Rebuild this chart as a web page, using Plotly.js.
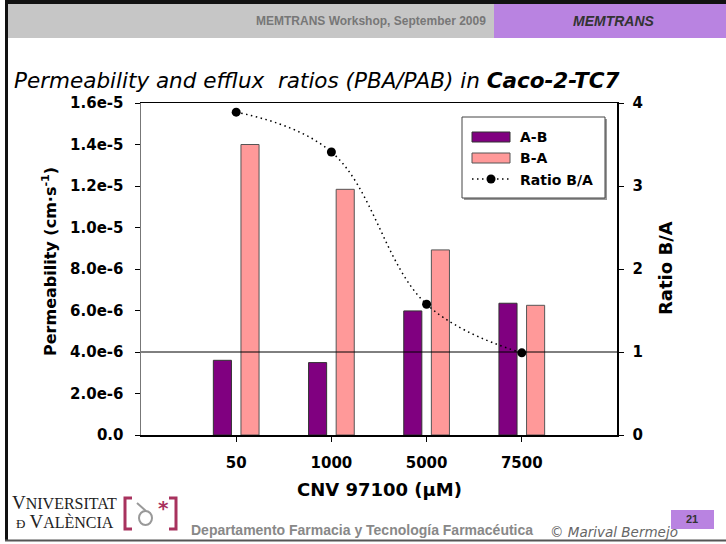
<!DOCTYPE html>
<html>
<head>
<meta charset="utf-8">
<script src="https://cdn.plot.ly/plotly-3.0.1.min.js"></script>
<style>html,body{margin:0;padding:0;background:#fff;}#chart{width:726px;height:544px;}</style>
</head>
<body>
<div id="chart"></div>
<script>
// ---- data ----
const categories = ['50', '1000', '5000', '7500'];
const seriesNames = ['A-B', 'B-A', 'Ratio B/A'];
const permAB = [3.60e-6, 3.49e-6, 5.98e-6, 6.35e-6];
const permBA = [1.40e-5, 1.184e-5, 8.92e-6, 6.25e-6];
const ratioBA = [3.89, 3.41, 1.575, 0.99];
const refRatio = 1;
const yTickVals = [0, 2e-6, 4e-6, 6e-6, 8e-6, 1e-5, 1.2e-5, 1.4e-5, 1.6e-5];
const yTickText = ['0.0', '2.0e-6', '4.0e-6', '6.0e-6', '8.0e-6', '1.0e-5', '1.2e-5', '1.4e-5', '1.6e-5'];
const y2TickVals = [0, 1, 2, 3, 4];

// ---- pixel helpers for decoration (paper coords) ----
const L = 141, R = 617, T = 103, B = 435;
const fx = p => (p - L) / (R - L);
const fy = p => (B - p) / (B - T);

const purple = '#800080', pink = '#FF9999', band = '#B983E1';

const traces = [
  {type: 'bar', name: seriesNames[0], x: categories, y: permAB, width: 0.19, offset: -0.24,
   marker: {color: purple, line: {color: '#333', width: 1}}, xaxis: 'x', yaxis: 'y'},
  {type: 'bar', name: seriesNames[1], x: categories, y: permBA, width: 0.19, offset: 0.05,
   marker: {color: pink, line: {color: '#555', width: 1}}, xaxis: 'x', yaxis: 'y'},
  {type: 'scatter', name: seriesNames[2], x: categories, y: ratioBA, mode: 'lines+markers',
   line: {color: '#000', width: 1.5, dash: '1.5px,3.5px', shape: 'spline', smoothing: 1.1},
   marker: {color: '#000', size: 9}, xaxis: 'x', yaxis: 'y2', cliponaxis: false}
];

function rect(x0, y0, x1, y1, fill, line, lw) {
  return {type: 'rect', xref: 'paper', yref: 'paper', x0: fx(x0), x1: fx(x1), y0: fy(y0), y1: fy(y1),
    fillcolor: fill, line: {color: line || fill, width: lw === undefined ? 0 : lw}, layer: 'above'};
}
function pathPx(pts, color, width) {
  let d = pts.map((p, i) => (i ? 'L' : 'M') + fx(p[0]) + ',' + fy(p[1])).join(' ');
  return {type: 'path', xref: 'paper', yref: 'paper', path: d, line: {color: color, width: width}, layer: 'above'};
}

const shapes = [
  // slide frame & header
  rect(5, 0, 726, 4, '#111'),
  rect(5, 0, 8, 541, '#111'),
  rect(8, 4, 494, 38, '#C6C6C6'),
  rect(494, 4, 726, 38, band),
  rect(5, 539.5, 726, 541.5, '#555'),
  rect(671, 510, 714, 529, band),
  // reference line at ratio = 1
  {type: 'line', xref: 'paper', x0: 0, x1: 1, yref: 'y2', y0: refRatio, y1: refRatio,
   line: {color: '#000', width: 1}, layer: 'above'},
  // legend box
  rect(464, 119, 607, 200, '#999'),
  rect(462, 117, 605, 198, '#fff', '#444', 1),
  rect(472, 132, 510, 142, purple, '#333', 1),
  rect(472, 153, 510, 163, pink, '#555', 1),
  {type: 'line', xref: 'paper', yref: 'paper', x0: fx(472), x1: fx(510), y0: fy(179), y1: fy(179),
   line: {color: '#000', width: 1.5, dash: '1.5px,3.5px'}, layer: 'above'},
  {type: 'circle', xref: 'paper', yref: 'paper', x0: fx(486.5), x1: fx(495.5), y0: fy(174.5), y1: fy(183.5),
   fillcolor: '#000', line: {color: '#000', width: 0}, layer: 'above'},
  // logo brackets
  pathPx([[132, 498], [125, 498], [125, 529], [132, 529]], '#A8325E', 3),
  pathPx([[169, 498], [176, 498], [176, 529], [169, 529]], '#A8325E', 3),
  pathPx([[137, 503], [146, 511]], '#999', 2),
  {type: 'circle', xref: 'paper', yref: 'paper', x0: fx(139), x1: fx(152), y0: fy(511), y1: fy(525),
   line: {color: '#999', width: 2}, layer: 'above'}
];

function ann(x, y, text, font, opts) {
  return Object.assign({xref: 'paper', yref: 'paper', x: fx(x), y: fy(y), text: text, showarrow: false,
    xanchor: 'left', yanchor: 'middle', font: font}, opts || {});
}
const sans = 'DejaVu Sans';
const lib = 'Liberation Sans, Arial, sans-serif';
const annotations = [
  ann(488, 21, 'MEMTRANS Workshop, September 2009', {family: lib, size: 12, weight: 'bold', color: '#777'}, {xanchor: 'right'}),
  ann(614, 21, 'MEMTRANS', {family: lib, size: 14, weight: 'bold', style: 'italic', color: '#333'}, {xanchor: 'center'}),
  ann(49, 262, 'Permeability (cm·s<sup>-1</sup>)', {family: sans, size: 16, weight: 'bold', color: '#000'}, {xanchor: 'center', textangle: -90}),
  ann(665, 268, 'Ratio B/A', {family: sans, size: 18, weight: 'bold', color: '#000'}, {xanchor: 'center', textangle: -90}),
  ann(379, 489, 'CNV 97100 (µM)', {family: sans, size: 18, weight: 'bold', color: '#000'}, {xanchor: 'center'}),
  ann(518, 137, seriesNames[0], {family: sans, size: 14, weight: 'bold', color: '#000'}),
  ann(518, 158, seriesNames[1], {family: sans, size: 14, weight: 'bold', color: '#000'}),
  ann(518, 180, seriesNames[2], {family: sans, size: 14, weight: 'bold', color: '#000'}),
  ann(189, 530, 'Departamento Farmacia y Tecnología Farmacéutica', {family: lib, size: 14, weight: 'bold', color: '#888'}),
  ann(548, 532, '© Marival Bermejo', {family: sans, size: 13.5, style: 'italic', color: '#666'}),
  ann(692, 519, '21', {family: lib, size: 11, weight: 'bold', color: '#333'}, {xanchor: 'center'}),
  ann(10, 503, '<span style="font-size:19px">V</span>NIVERSITAT', {family: 'Liberation Serif, serif', size: 16, color: '#222'}),
  ann(14, 521, '<span style="font-size:13px">Ð</span> <span style="font-size:19px">V</span>ALÈNCIA', {family: 'Liberation Serif, serif', size: 16, color: '#222'}),
  ann(163, 508, '*', {family: sans, size: 20, weight: 'bold', color: '#A8325E'}, {xanchor: 'center'})
];

const layout = {
  width: 726, height: 544,
  margin: {l: L, r: 726 - R, t: T, b: 544 - B, pad: 0},
  paper_bgcolor: '#fff', plot_bgcolor: '#fff',
  showlegend: false, barmode: 'overlay',
  font: {family: sans, color: '#000'},
  title: {text: 'Permeability and efflux\u00a0 ratios (PBA/PAB) in <b>Caco-2-TC7</b>',
    font: {family: sans, size: 21.5, style: 'italic', color: '#000'},
    xref: 'container', yref: 'container', x: 14 / 726, xanchor: 'left', y: 1 - 80 / 544, yanchor: 'middle'},
  xaxis: {type: 'category', range: [-1, 4], showline: true, linecolor: '#000', linewidth: 1.5, mirror: true,
    ticks: 'outside', ticklen: 5, tickcolor: '#000', tickwidth: 1, showgrid: false, zeroline: false,
    tickfont: {family: sans, size: 15, weight: 'bold', color: '#000'}, ticklabelstandoff: 8, fixedrange: true},
  yaxis: {range: [0, 1.6e-5], tickvals: yTickVals, ticktext: yTickText, showline: true, linecolor: '#777', linewidth: 1.5,
    ticks: 'outside', ticklen: 5, tickcolor: '#000', showgrid: false, zeroline: false,
    tickfont: {family: sans, size: 15, weight: 'bold', color: '#000'}, ticklabelstandoff: 8, fixedrange: true},
  yaxis2: {overlaying: 'y', side: 'right', range: [0, 4], tickvals: y2TickVals, showline: true, linecolor: '#000', linewidth: 1.5,
    ticks: 'outside', ticklen: 5, tickcolor: '#000', showgrid: false, zeroline: false,
    tickfont: {family: sans, size: 15, weight: 'bold', color: '#000'}, ticklabelstandoff: 6, fixedrange: true},
  shapes: shapes,
  annotations: annotations
};

Plotly.newPlot('chart', traces, layout, {displayModeBar: false, staticPlot: true});
</script>
</body>
</html>
